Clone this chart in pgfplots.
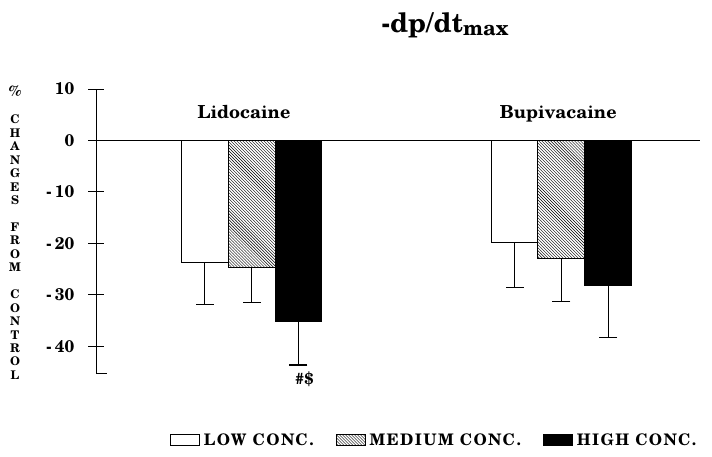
\documentclass[border=0pt]{standalone}
\usepackage{fontspec}
\setmainfont{TeX Gyre Schola}
\usepackage{pgfplots}
\pgfplotsset{compat=1.18}
\usetikzlibrary{patterns}
\begin{document}
\begin{tikzpicture}
\useasboundingbox (-96bp,-84bp) rectangle (616bp,373bp);
\begin{axis}[
  scale only axis, width=604bp, height=284bp,
  xmin=0.497, xmax=2.448, ymin=-45.2, ymax=10,
  clip=false,
  axis x line=none, axis y line*=left,
  xtick=\empty,
  ytick={-40,-30,-20,-10,0,10},
  yticklabels={-\hspace{3bp}40,-\hspace{3bp}30,-\hspace{3bp}20,-\hspace{3bp}10,0,10},
  tick align=center, major tick length=15bp,
  y axis line style={line width=1pt},
  tick style={line width=0.8pt, black},
  yticklabel style={font=\bfseries\fontsize{17}{17}\selectfont, inner sep=0pt, xshift=-14bp},
  bar width=0.151,
  error bars/error bar style={line width=1pt, black},
  error bars/error mark options={rotate=90, mark size=9bp, line width=1.6pt, black},
  legend columns=3,
  legend image code/.code={\draw[#1] (0bp,-5.5bp) rectangle (29bp,5.5bp);},
  legend style={draw=none, at={(0.56,-0.236)}, anchor=center,
    font=\bfseries\fontsize{16}{16}\selectfont\addfontfeature{LetterSpace=9},
    /tikz/every odd column/.append style={column sep=2bp},
    /tikz/every even column/.append style={column sep=20bp}},
]
\addplot[ybar, bar shift=0, draw=black, line width=0.9pt, fill=white,
  error bars/.cd, y dir=minus, y explicit]
  coordinates {(0.849,-23.7) -= (0,8.2) (1.849,-19.8) -= (0,8.8)};
\addplot[ybar, bar shift=0, draw=black, line width=0.9pt, pattern=north west lines,
  error bars/.cd, y dir=minus, y explicit]
  coordinates {(1,-24.7) -= (0,6.8) (2,-23.0) -= (0,8.3)};
\addplot[ybar, bar shift=0, draw=black, line width=0.9pt, fill=black,
  error bars/.cd, y dir=minus, y explicit]
  coordinates {(1.151,-35.2) -= (0,8.5) (2.151,-28.2) -= (0,10.1)};
\legend{LOW CONC.,MEDIUM CONC.,HIGH CONC.}
\draw[line width=1.1pt] (axis cs:0.497,0) -- (axis cs:2.448,0);
\draw[line width=1pt] (axis cs:0.497,-45.2) -- (axis cs:0.5325,-45.2);
\node[anchor=base, font=\bfseries\fontsize{18}{18}\selectfont] at (axis cs:0.975,4.3) {Lidocaine};
\node[anchor=base, font=\bfseries\fontsize{18}{18}\selectfont] at (axis cs:1.99,4.3) {Bupivacaine};
\node[font=\bfseries\fontsize{16}{16}\selectfont] at (axis cs:1.17,-46.5) {\#\$};
\end{axis}
\node[anchor=north, inner sep=0pt, align=center, font=\bfseries\fontsize{12}{13.5}\selectfont]
  at (-81bp,287bp) {{\fontsize{15}{13.5}\selectfont\%}\\~\\C\\H\\A\\N\\G\\E\\S\\~\\F\\R\\O\\M\\~\\C\\O\\N\\T\\R\\O\\L};
\node[anchor=base, font=\bfseries\fontsize{27}{27}\selectfont] at (349bp,340bp)
  {-dp/dt\raisebox{-3bp}{\fontsize{21}{21}\selectfont max}};
\end{tikzpicture}
\end{document}
